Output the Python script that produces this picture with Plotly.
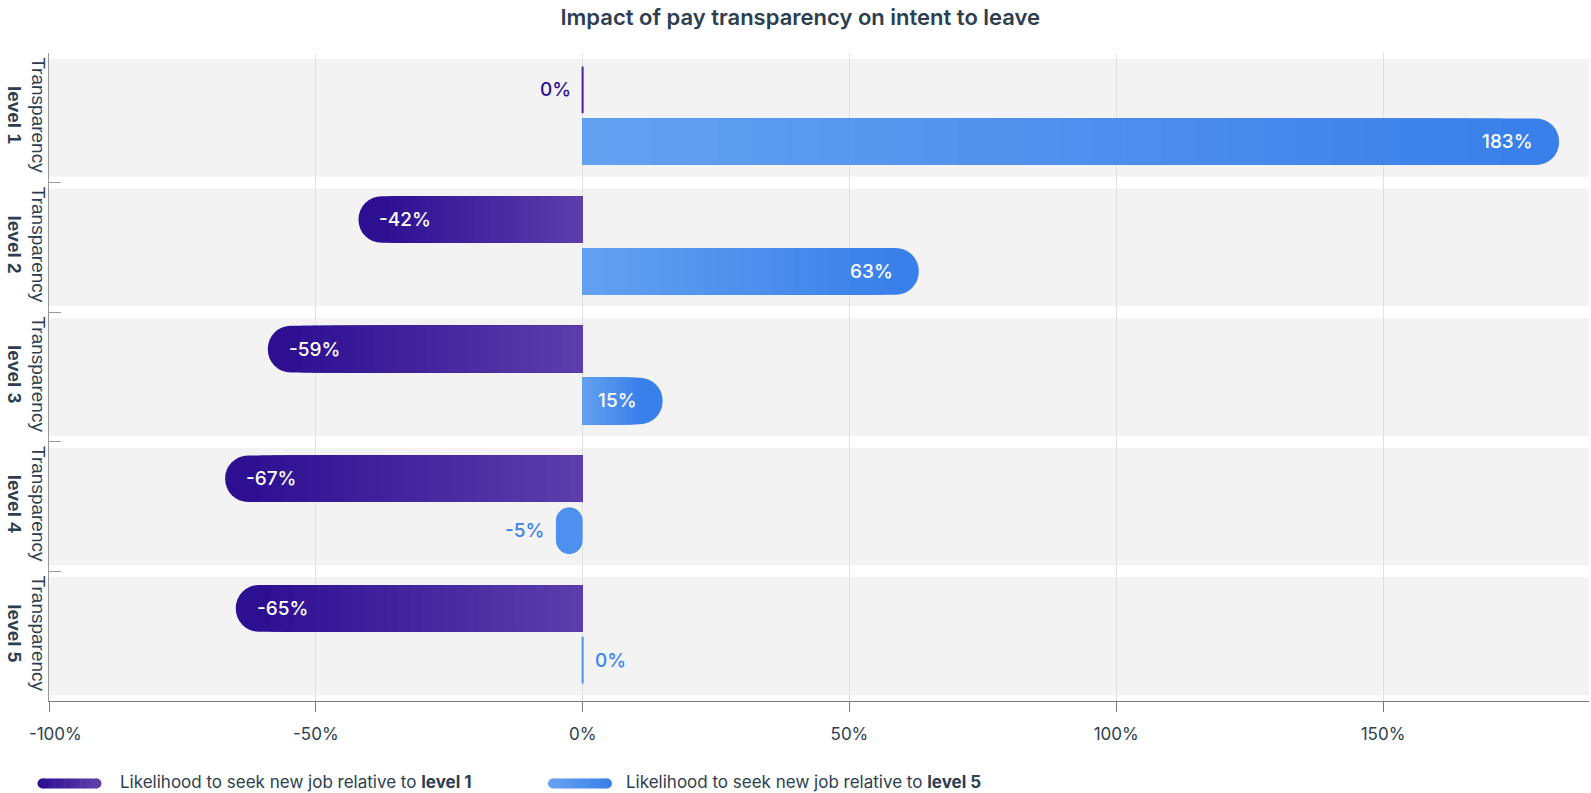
import plotly.graph_objects as go

# ---------------- data ----------------
categories = ["Transparency level 1", "Transparency level 2", "Transparency level 3",
              "Transparency level 4", "Transparency level 5"]
category_labels = ["Transparency<br><b>level 1</b>", "Transparency<br><b>level 2</b>",
                   "Transparency<br><b>level 3</b>", "Transparency<br><b>level 4</b>",
                   "Transparency<br><b>level 5</b>"]
rel_level1 = [0, -42, -59, -67, -65]
rel_level5 = [183, 63, 15, -5, 0]
series_names = ["Likelihood to seek new job relative to <b>level 1</b>",
                "Likelihood to seek new job relative to <b>level 5</b>"]
x_tickvals = [-100, -50, 0, 50, 100, 150]
x_ticktext = ["\u00a0\u00a0\u2009-100%", "-50%", "0%", "50%", "100%", "150%"]
title_text = "Impact of pay transparency on intent to leave"

# ---------------- styling ----------------
FIG_W, FIG_H = 1591, 793
M_L, M_R, M_T, M_B = 49, 2, 53, 92
PLOT_W = FIG_W - M_L - M_R
PLOT_H = FIG_H - M_T - M_B
X_MIN, X_MAX = -100, 188.6
PX_PER_UNIT = PLOT_W / (X_MAX - X_MIN)

PURPLE_L, PURPLE_R = (45, 16, 146), (92, 62, 171)
BLUE_L, BLUE_R = (99, 161, 240), (58, 128, 234)
PURPLE_TXT, BLUE_TXT = "#2E1192", "#3D82EA"
TEXT_DARK = "#2C3E50"
FONT = "Inter"

BAR_W = 0.36
OFFSETS = [-0.395, 0.005]
RADIUS = 23
N_SEG = 28
MIN_SPAN_PX = 12


def lerp(c1, c2, t):
    return tuple(c1[i] + (c2[i] - c1[i]) * t for i in range(3))


def rgb(c):
    return "rgb(%d,%d,%d)" % tuple(round(v) for v in c)


fig = go.Figure()


def add_series(values, offset, left_c, right_c, name):
    r_data = RADIUS / PX_PER_UNIT
    min_span = MIN_SPAN_PX / PX_PER_UNIT
    base_colors, line_colors = [], []
    for v in values:
        span = abs(v) - r_data
        if span < min_span:
            base_colors.append(rgb(lerp(left_c, right_c, 0.5)))
        else:
            base_colors.append(rgb(left_c if v < 0 else right_c))
        line_colors.append(rgb(lerp(left_c, right_c, 0.5)) if v == 0 else "rgba(0,0,0,0)")
    # full rounded bar
    fig.add_trace(go.Bar(
        orientation="h", y=categories, x=values, base=0, name=name,
        width=BAR_W, offset=offset,
        marker=dict(color=base_colors, cornerradius=RADIUS,
                    line=dict(color=line_colors, width=2)),
        hovertemplate="%{y}: %{x}%<extra></extra>",
    ))
    # gradient segments (square, kept clear of the rounded end)
    for k in range(1, N_SEG):
        frac = 1 - k / N_SEG
        xs, cols = [], []
        for v in values:
            span = abs(v) - r_data
            if v == 0 or span < min_span:
                xs.append(None)
                cols.append("rgba(0,0,0,0)")
                continue
            length = span * frac
            xs.append(length if v > 0 else -length)
            f = frac - 0.5 / N_SEG
            t = f if v > 0 else 1 - f
            cols.append(rgb(lerp(left_c, right_c, t)))
        fig.add_trace(go.Bar(
            orientation="h", y=categories, x=xs, base=0, width=BAR_W, offset=offset,
            marker=dict(color=cols, line=dict(width=0)), hoverinfo="skip",
            showlegend=False,
        ))


add_series(rel_level1, OFFSETS[0], PURPLE_L, PURPLE_R, series_names[0])
add_series(rel_level5, OFFSETS[1], BLUE_L, BLUE_R, series_names[1])

# ---------------- value labels ----------------
annotations = []
for s_idx, (values, txt_col) in enumerate([(rel_level1, PURPLE_TXT), (rel_level5, BLUE_TXT)]):
    default_dir = -1 if sum(values) < 0 else 1
    for i, v in enumerate(values):
        ypos = i + OFFSETS[s_idx] + BAR_W / 2
        inside = abs(v) * PX_PER_UNIT > 60
        if inside:
            annotations.append(dict(
                x=v, y=ypos, xref="x", yref="y", text=f"{v}%", showarrow=False,
                xanchor="left" if v < 0 else "right", xshift=19 if v < 0 else -24,
                font=dict(family=FONT, size=19, color="white", weight=500)))
        else:
            d = (-1 if v < 0 else 1) if v != 0 else default_dir
            annotations.append(dict(
                x=v, y=ypos, xref="x", yref="y", text=f"{v}%", showarrow=False,
                xanchor="right" if d < 0 else "left", xshift=-10 if d < 0 else 10,
                font=dict(family=FONT, size=19, color=txt_col, weight=500)))

# ---------------- band backgrounds ----------------
shapes = []
for i in range(len(categories)):
    shapes.append(dict(type="rect", xref="x domain", x0=0, x1=1, yref="y",
                       y0=i - 0.455, y1=i + 0.455, fillcolor="#F3F3F3",
                       line=dict(width=0), layer="below"))


# ---------------- custom legend ----------------
def xp(px):
    return (px - M_L) / PLOT_W


def yp(py):
    return (M_T + PLOT_H - py) / PLOT_H


legend_items = [(37.5, 118, PURPLE_L, PURPLE_R), (548, 624, BLUE_L, BLUE_R)]
for (x0, tx, lc, rc), name in zip(legend_items, series_names):
    x1, yc, h = x0 + 64, 783.5, 10
    r = h / 2
    shapes.append(dict(type="circle", xref="paper", yref="paper",
                       x0=xp(x0), x1=xp(x0 + h), y0=yp(yc + r), y1=yp(yc - r),
                       fillcolor=rgb(lc), line=dict(width=0)))
    shapes.append(dict(type="circle", xref="paper", yref="paper",
                       x0=xp(x1 - h), x1=xp(x1), y0=yp(yc + r), y1=yp(yc - r),
                       fillcolor=rgb(rc), line=dict(width=0)))
    nseg = 10
    seg_w = (x1 - x0 - h) / nseg
    for k in range(nseg):
        sx0 = x0 + r + k * seg_w
        shapes.append(dict(type="rect", xref="paper", yref="paper",
                           x0=xp(sx0), x1=xp(sx0 + seg_w + 0.5), y0=yp(yc + r), y1=yp(yc - r),
                           fillcolor=rgb(lerp(lc, rc, (k + 0.5) / nseg)), line=dict(width=0)))
    annotations.append(dict(xref="paper", yref="paper", x=xp(tx), y=yp(782), text=name,
                            showarrow=False, xanchor="left", yanchor="middle",
                            font=dict(family=FONT, size=17, color=TEXT_DARK)))

fig.update_layout(
    width=FIG_W, height=FIG_H,
    margin=dict(l=M_L, r=M_R, t=M_T, b=M_B, autoexpand=False),
    barmode="overlay", showlegend=False,
    plot_bgcolor="white", paper_bgcolor="white",
    title=dict(text=title_text, x=0.503, xanchor="center", y=1 - 17.5 / FIG_H, yanchor="middle",
               font=dict(family=FONT, size=22, color=TEXT_DARK, weight=600)),
    xaxis=dict(range=[X_MIN, X_MAX], tickvals=x_tickvals, ticktext=x_ticktext,
               showgrid=True, gridcolor="#E1E1E1", gridwidth=1,
               zeroline=True, zerolinecolor="#E1E1E1", zerolinewidth=1,
               showline=True, linecolor="#7A7A7A", linewidth=1,
               ticks="outside", ticklen=10, tickcolor="#7A7A7A", ticklabelstandoff=8,
               tickfont=dict(family=FONT, size=17, color=TEXT_DARK), fixedrange=True),
    yaxis=dict(type="category", categoryorder="array", categoryarray=categories,
               autorange="reversed", tickvals=categories, ticktext=category_labels,
               tickangle=90, tickson="boundaries", ticks="inside", ticklen=12,
               tickcolor="#999999", showline=True, linecolor="#999999", linewidth=1,
               showgrid=False, zeroline=False, ticklabelstandoff=-7,
               tickfont=dict(family="Liberation Sans", size=19, color=TEXT_DARK),
               fixedrange=True),
    shapes=shapes, annotations=annotations,
)

fig.write_html("out.html", config={"displayModeBar": False},
               post_script="document.body.style.margin='0px';")
